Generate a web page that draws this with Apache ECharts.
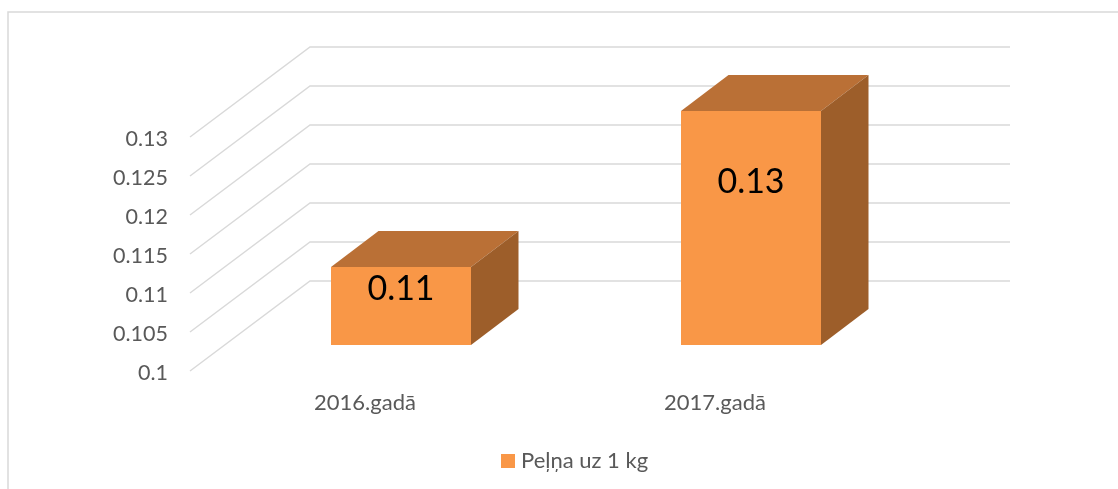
<!DOCTYPE html>
<html>
<head>
<meta charset="utf-8">
<style>
  html, body { margin: 0; padding: 0; background: #fff; }
  #chart { width: 1118px; height: 489px; }
</style>
<script src="https://cdn.jsdelivr.net/npm/echarts@6/dist/echarts.min.js"></script>
</head>
<body>
<div id="chart"></div>
<script>
const categories = ['2016.gadā', '2017.gadā']
const profit = [0.11, 0.13]
const yTicks = [0.1, 0.105, 0.11, 0.115, 0.12, 0.125, 0.13]
const seriesName = 'Peļņa uz 1 kg'

const FONT = 'Lato'
const TEXT_COLOR = '#595959'
const GRID_COLOR = '#d9d9d9'
const FACE = '#f99747'
const TOP = '#ba7036'
const SIDE = '#9d5e2a'

// fake 3D: pixel depth of the chart floor and of the bars standing on it
const WALL_DX = 120
const WALL_DY = 90
const BAR_SHIFT_X = 36
const BAR_SHIFT_Y = 26
const BAR_DX = 47.5
const BAR_DY = 36

const renderGridLine = (params, api) => {
  const sys = params.coordSys
  const p = api.coord([0, api.value(1)])
  return {
    type: 'polyline',
    silent: true,
    shape: {
      points: [
        [sys.x, p[1]],
        [sys.x + WALL_DX, p[1] - WALL_DY],
        [sys.x + sys.width + WALL_DX, p[1] - WALL_DY]
      ]
    },
    style: { stroke: GRID_COLOR, lineWidth: 1.5, fill: null }
  }
}

const renderBar = (params, api) => {
  const top = api.coord([api.value(0), api.value(1)])
  const base = api.coord([api.value(0), yTicks[0]])
  const w = api.size([1, 0])[0] * 0.4
  const x0 = top[0] + BAR_SHIFT_X - w / 2
  const x1 = x0 + w
  const y0 = top[1] - BAR_SHIFT_Y
  const y1 = base[1] - BAR_SHIFT_Y
  return {
    type: 'group',
    children: [
      {
        type: 'polygon',
        shape: { points: [[x0, y0], [x1, y0], [x1 + BAR_DX, y0 - BAR_DY], [x0 + BAR_DX, y0 - BAR_DY]] },
        style: { fill: TOP }
      },
      {
        type: 'polygon',
        shape: { points: [[x1, y0], [x1 + BAR_DX, y0 - BAR_DY], [x1 + BAR_DX, y1 - BAR_DY], [x1, y1]] },
        style: { fill: SIDE }
      },
      {
        type: 'rect',
        shape: { x: x0, y: y0, width: w, height: y1 - y0 },
        style: { fill: FACE }
      },
      {
        type: 'text',
        z2: 10,
        style: {
          x: (x0 + x1) / 2,
          y: y0 + (y1 - y0) * 0.314 - 2.5,
          text: String(api.value(1)),
          fill: '#000',
          font: '34px ' + FONT,
          align: 'center',
          verticalAlign: 'middle'
        }
      }
    ]
  }
}

const chart = echarts.init(document.getElementById('chart'), null, { renderer: 'canvas' })
chart.setOption({
  animation: false,
  textStyle: { fontFamily: FONT },
  grid: { left: 190, width: 700, top: 137, bottom: 118, containLabel: false },
  graphic: [{
    type: 'polyline',
    silent: true,
    shape: { points: [[8, 489], [8, 12], [1118, 12]] },
    style: { stroke: GRID_COLOR, lineWidth: 1.5, fill: null }
  }],
  legend: {
    data: [{ name: seriesName, icon: 'rect' }],
    left: 501,
    top: 450,
    padding: 0,
    itemWidth: 14,
    itemHeight: 14,
    textStyle: { color: TEXT_COLOR, fontSize: 22, fontFamily: FONT, padding: [0, 0, 0, 1] }
  },
  xAxis: {
    type: 'category',
    data: categories,
    axisLine: { show: false },
    axisTick: { show: false },
    axisLabel: { color: TEXT_COLOR, fontSize: 22, margin: 21, fontFamily: FONT }
  },
  yAxis: {
    type: 'value',
    min: yTicks[0],
    max: yTicks[yTicks.length - 1],
    interval: 0.005,
    axisLine: { show: false },
    axisTick: { show: false },
    splitLine: { show: false },
    axisLabel: {
      margin: 22,
      formatter: '{t|{value}}',
      rich: { t: { color: TEXT_COLOR, fontSize: 21.5, fontFamily: FONT, padding: [4, 0, 0, 0] } }
    }
  },
  series: [
    {
      type: 'custom',
      name: 'grid',
      silent: true,
      clip: false,
      renderItem: renderGridLine,
      encode: { x: 0, y: 1 },
      data: yTicks.map(v => [0, v]),
      z: 1
    },
    {
      type: 'custom',
      name: seriesName,
      clip: false,
      renderItem: renderBar,
      itemStyle: { color: FACE },
      encode: { x: 0, y: 1 },
      data: profit.map((v, i) => [i, v]),
      z: 2
    }
  ]
})
</script>
</body>
</html>
